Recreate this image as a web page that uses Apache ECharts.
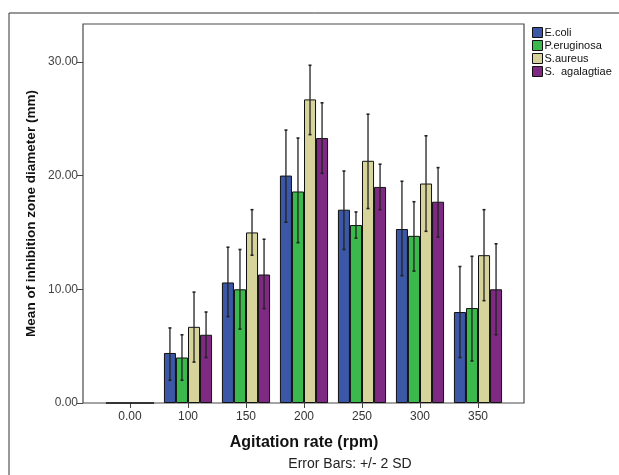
<!DOCTYPE html>
<html><head><meta charset="utf-8">
<script src="https://cdn.jsdelivr.net/npm/echarts@6/dist/echarts.min.js"></script>
<style>html,body{margin:0;padding:0;background:#fff}#c{width:619px;height:475px}</style>
</head><body><div id="c"></div>
<script>
var categories = ['0.00','100','150','200','250','300','350'];
var seriesNames = ['E.coli','P.eruginosa','S.aureus','S.  agalagtiae'];
var colors = ['#3b57a6','#3cb94c','#d7d49b','#7e2a82'];
var ecoli     = [0, 4.4, 10.6, 20.0, 17.0, 15.3, 8.0];
var peru      = [0, 4.0, 10.0, 18.6, 15.65, 14.7, 8.35];
var saureus   = [0, 6.7, 15.0, 26.7, 21.3, 19.3, 13.0];
var sagal     = [0, 6.0, 11.3, 23.3, 19.0, 17.7, 10.0];
var ecoliLow  = [0, 2.0, 7.6, 15.9, 13.5, 11.2, 4.0];
var ecoliHigh = [0, 6.6, 13.7, 24.0, 20.4, 19.5, 12.0];
var peruLow   = [0, 2.0, 6.5, 14.1, 14.5, 11.6, 3.7];
var peruHigh  = [0, 6.0, 13.5, 23.3, 16.8, 17.7, 12.9];
var saurLow   = [0, 3.6, 13.0, 23.6, 17.1, 15.1, 9.0];
var saurHigh  = [0, 9.75, 17.0, 29.7, 25.4, 23.5, 17.0];
var sagalLow  = [0, 4.0, 8.3, 20.2, 17.0, 14.6, 6.0];
var sagalHigh = [0, 8.0, 14.4, 26.4, 21.0, 20.7, 14.0];
var yTicks = [0, 10, 20, 30];

var values = [ecoli, peru, saureus, sagal];
var lows = [ecoliLow, peruLow, saurLow, sagalLow];
var highs = [ecoliHigh, peruHigh, saurHigh, sagalHigh];
var gapRatio = 0.17;
var font = 'Liberation Sans, Arial, sans-serif';

var chart = echarts.init(document.getElementById('c'));
var series = [];
values.forEach(function (vals, i) {
  series.push({
    name: seriesNames[i], type: 'bar', xAxisIndex: 0, yAxisIndex: 0,
    data: vals, barGap: '0%', barCategoryGap: (gapRatio * 100) + '%',
    itemStyle: { color: colors[i], borderColor: '#111', borderWidth: 1 },
    emphasis: { disabled: true }, animation: false
  });
});
values.forEach(function (vals, i) {
  var data = categories.map(function (c, k) {
    return (lows[i][k] === 0 && highs[i][k] === 0) ? null : [k, lows[i][k], highs[i][k]];
  }).filter(function (d) { return d; });
  series.push({
    type: 'custom', xAxisIndex: 0, yAxisIndex: 0, silent: true, animation: false, z: 5,
    data: data,
    encode: { x: 0, y: [1, 2] },
    renderItem: function (params, api) {
      var k = api.value(0);
      var band = api.size([1, 0])[0];
      var bw = band * (1 - gapRatio) / 4;
      var lo = api.coord([k, api.value(1)]);
      var hi = api.coord([k, api.value(2)]);
      var x = lo[0] + (i - 1.5) * bw;
      var st = { stroke: '#222', lineWidth: 1.3 };
      return { type: 'group', children: [
        { type: 'line', shape: { x1: x, y1: lo[1], x2: x, y2: hi[1] }, style: st },
        { type: 'line', shape: { x1: x - 1.5, y1: lo[1], x2: x + 1.5, y2: lo[1] }, style: { stroke: '#222', lineWidth: 1.6 } },
        { type: 'line', shape: { x1: x - 1.5, y1: hi[1], x2: x + 1.5, y2: hi[1] }, style: { stroke: '#222', lineWidth: 1.6 } }
      ] };
    }
  });
});

chart.setOption({
  animation: false,
  backgroundColor: '#fff',
  textStyle: { fontFamily: font },
  graphic: [
    { type: 'rect', shape: { x: 9, y: 13, width: 700, height: 600 }, style: { fill: 'none', stroke: '#333', lineWidth: 1 }, z: -10 },
    { type: 'text', x: 350, y: 464, style: { text: 'Error Bars: +/- 2 SD', font: '14px Liberation Sans, Arial, sans-serif', fill: '#222', textAlign: 'center', textVerticalAlign: 'middle' } }
  ],
  legend: {
    data: seriesNames, orient: 'vertical', left: 527, top: 22,
    itemWidth: 10, itemHeight: 10, itemGap: 2,
    icon: 'rect',
    itemStyle: { borderColor: '#111', borderWidth: 1 },
    textStyle: { fontSize: 11, color: '#111', fontFamily: font, padding: [0, 0, 0, -3] },
    selectedMode: false
  },
  grid: [
    { left: 101, width: 406, top: 24, bottom: 72 },
    { left: 83, right: 95, top: 24, bottom: 72, show: true, borderColor: '#4a4a4a', borderWidth: 1.2, z: 0 }
  ],
  xAxis: [
    { type: 'category', gridIndex: 0, data: categories,
      name: 'Agitation rate (rpm)', nameLocation: 'middle', nameGap: 32,
      nameTextStyle: { fontWeight: 'bold', fontSize: 16, color: '#111', fontFamily: font },
      axisLine: { show: false },
      axisTick: { show: true, alignWithLabel: true, length: 5, lineStyle: { color: '#444' } },
      axisLabel: { fontSize: 12, color: '#333', margin: 8, fontFamily: font } },
    { type: 'value', gridIndex: 1, show: false }
  ],
  yAxis: [
    { type: 'value', gridIndex: 0, min: 0, max: 33.33, interval: 10, offset: 18,
      axisLine: { show: false },
      axisTick: { show: true, length: 6, customValues: yTicks, lineStyle: { color: '#444' } },
      splitLine: { show: false },
      axisLabel: { fontSize: 12, color: '#444', margin: 5, fontFamily: font, customValues: yTicks,
        formatter: function (v) { return yTicks.indexOf(v) >= 0 ? v.toFixed(2) : ''; } } },
    { type: 'value', gridIndex: 1, show: true, min: 0, max: 1,
      name: 'Mean of inhibition zone diameter (mm)', nameLocation: 'middle', nameGap: 45,
      nameTextStyle: { fontWeight: 'bold', fontSize: 13.5, color: '#111', fontFamily: font },
      axisLine: { show: false }, axisTick: { show: false }, axisLabel: { show: false }, splitLine: { show: false } }
  ],
  series: series
});
</script></body></html>
